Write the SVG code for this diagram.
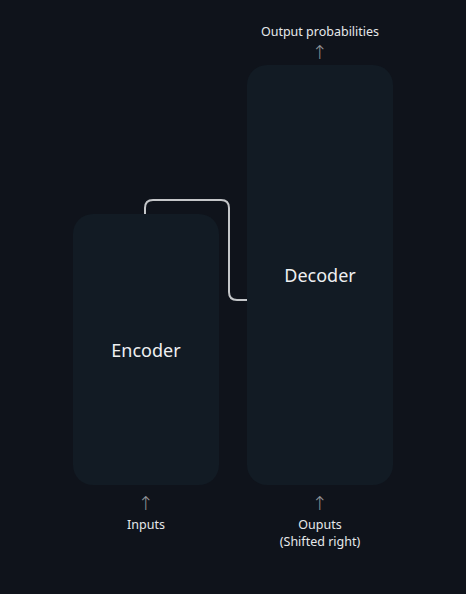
<svg xmlns="http://www.w3.org/2000/svg" width="466" height="594" viewBox="0 0 466 594">
  <style>
    .box { fill: #121b24; }
    .title { font-family: "Noto Sans", "Open Sans", sans-serif; font-size: 18px; fill: #eef0f2; text-anchor: middle; }
    .label { font-family: "Noto Sans", "Open Sans", sans-serif; font-size: 12.5px; fill: #e6e8ea; text-anchor: middle; }
    .arrow { font-family: "DejaVu Sans", sans-serif; font-weight: 200; font-size: 19px; fill: #8f9398; text-anchor: middle; }
    .link { fill: none; stroke: #c4c6c9; stroke-width: 2; }
  </style>
  <rect width="466" height="594" fill="#0f131b"/>

  <g id="connectors">
    <path class="link" d="M145,214 V208 Q145,200 153,200 H221 Q229,200 229,208 V292 Q229,300 237,300 H247"/>
  </g>

  <g id="encoder">
    <rect class="box" x="73" y="214" width="146" height="271" rx="20"/>
    <text class="title" x="146" y="357">Encoder</text>
  </g>

  <g id="decoder">
    <rect class="box" x="247" y="65" width="146" height="420" rx="20"/>
    <text class="title" x="320" y="282">Decoder</text>
  </g>

  <g id="output-label">
    <text class="label" x="320" y="36">Output probabilities</text>
    <text class="arrow" x="320" y="59">↑</text>
  </g>

  <g id="inputs-label">
    <text class="arrow" x="146" y="510">↑</text>
    <text class="label" x="146" y="529">Inputs</text>
  </g>

  <g id="outputs-shifted-label">
    <text class="arrow" x="320" y="510">↑</text>
    <text class="label" x="320" y="529">Ouputs</text>
    <text class="label" x="320" y="546">(Shifted right)</text>
  </g>
</svg>
